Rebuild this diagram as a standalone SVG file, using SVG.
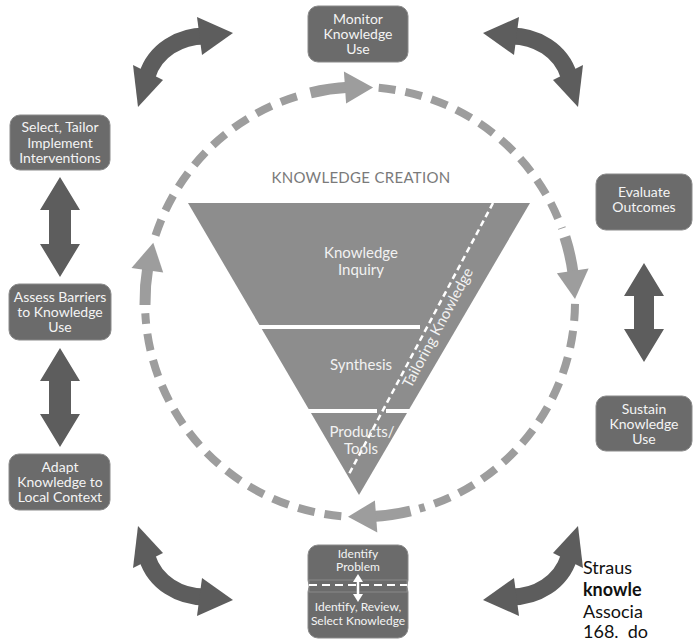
<svg xmlns="http://www.w3.org/2000/svg" xmlns:xlink="http://www.w3.org/1999/xlink" width="695" height="641" viewBox="0 0 695 641">
<style>
.node rect{fill:#6b6b6b;stroke:#8a8a8a;stroke-width:1}
.nt{font-family:Lato,'Open Sans',sans-serif;font-size:14px;fill:#f4f4f4;text-anchor:middle}
.st{font-size:12px}
.tt{font-family:Lato,'Open Sans',sans-serif;font-size:15px;fill:#f2f2f2;text-anchor:middle}
.ring{fill:none;stroke:#9d9d9d;stroke-width:8;stroke-dasharray:17 10}
.shaft{fill:none;stroke:#9d9d9d;stroke-width:11}
.head{fill:#9d9d9d}
.dark{fill:#5d5d5d}
.darkline{fill:none;stroke:#5d5d5d;stroke-width:17}
.cite{font-family:Lato,'Liberation Sans',sans-serif;font-size:18px;fill:#111}
</style>
<defs>
<g id="ca">
<path class="darkline" d="M 205,36 C 180,36 155,50 147,76"/>
<polygon class="dark" points="233,33 197,17 202,55"/>
<polygon class="dark" points="138,107 133,65 163,80"/>
</g>
</defs>
<rect width="695" height="641" fill="#fff"/>

<g id="knowledge-creation">
<text x="361" y="183" font-family="Lato,'Open Sans',sans-serif" font-size="15" fill="#7a7a7a" text-anchor="middle" letter-spacing="0.3">KNOWLEDGE CREATION</text>
<polygon points="188,203 530,203 359,495" fill="#8d8d8d"/>
<line x1="255" y1="327" x2="420" y2="327" stroke="#fff" stroke-width="4"/>
<line x1="305" y1="411" x2="377" y2="411" stroke="#fff" stroke-width="4"/>
<line x1="386" y1="411" x2="412" y2="411" stroke="#fff" stroke-width="4"/>
<line x1="493" y1="203" x2="348" y2="476" stroke="#fff" stroke-width="2.5" stroke-dasharray="6 4"/>
<text class="tt" x="361" y="258">Knowledge</text>
<text class="tt" x="361" y="275">Inquiry</text>
<text class="tt" x="361" y="370">Synthesis</text>
<text class="tt" x="362" y="437">Products/</text>
<text class="tt" x="361" y="454">Tools</text>
<text font-family="Lato,'Open Sans',sans-serif" font-size="15" fill="#f2f2f2" transform="translate(411,389) rotate(-62)">Tailoring Knowledge</text>
</g>

<g id="connectors">
<path class="ring" d="M 378.7,87.8 A 215 215 0 0 1 562.0,228.5"/>
<path class="ring" d="M 575.0,303.9 A 215 215 0 0 1 419.3,508.7"/>
<path class="ring" d="M 341.3,516.2 A 215 215 0 0 1 145.3,313.2"/>
<path class="ring" d="M 155.5,235.6 A 215 215 0 0 1 300.7,95.3"/>
<path class="shaft" d="M 310.5,92.8 A 215 215 0 0 1 348.8,87.3"/>
<path class="shaft" d="M 564.9,237.0 A 215 215 0 0 1 573.3,274.7"/>
<path class="shaft" d="M 410.5,511.0 A 215 215 0 0 1 372.4,516.6"/>
<path class="shaft" d="M 145.0,305.0 A 215 215 0 0 1 147.9,266.5"/>
<polygon class="head" points="373.1,87.4 343.9,71.6 346.1,103.5"/>
<polygon class="head" points="575,299 588.6,268.6 556.9,273.3"/>
<polygon class="head" points="348.0,516.7 377.3,532.4 374.9,500.4"/>
<polygon class="head" points="153.3,242.7 131.5,267.9 163.2,272.6"/>
<use xlink:href="#ca"/>
<use xlink:href="#ca" transform="translate(716,0) scale(-1,1)"/>
<use xlink:href="#ca" transform="translate(0,633) scale(1,-1)"/>
<use xlink:href="#ca" transform="translate(716,633) scale(-1,-1)"/>
<polygon class="dark" points="60,177 80,210 71,210 71,244 80,244 60,277 40,244 49,244 49,210 40,210"/>
<polygon class="dark" points="60,348 80,381 71,381 71,414 80,414 60,447 40,414 49,414 49,381 40,381"/>
<polygon class="dark" points="644,263 664,296 654,296 654,329 664,329 644,362 624,329 634,329 634,296 624,296"/>
</g>

<g id="monitor" class="node">
<rect x="308" y="6" width="100" height="56" rx="10"/>
<text class="nt" x="358" y="24">Monitor</text>
<text class="nt" x="358" y="39">Knowledge</text>
<text class="nt" x="358" y="54">Use</text>
</g>
<g id="select" class="node">
<rect x="10" y="115" width="100" height="55" rx="10"/>
<text class="nt" x="60" y="132">Select, Tailor</text>
<text class="nt" x="60" y="147.5">Implement</text>
<text class="nt" x="60" y="163">Interventions</text>
</g>
<g id="assess" class="node">
<rect x="9" y="284" width="102" height="56" rx="10"/>
<text class="nt" x="60" y="302">Assess Barriers</text>
<text class="nt" x="60" y="317">to Knowledge</text>
<text class="nt" x="60" y="332">Use</text>
</g>
<g id="adapt" class="node">
<rect x="9" y="454" width="101" height="56" rx="10"/>
<text class="nt" x="60" y="472">Adapt</text>
<text class="nt" x="60" y="487">Knowledge to</text>
<text class="nt" x="60" y="502">Local Context</text>
</g>
<g id="evaluate" class="node">
<rect x="596" y="174" width="96" height="56" rx="10"/>
<text class="nt" x="644" y="197">Evaluate</text>
<text class="nt" x="644" y="212">Outcomes</text>
</g>
<g id="sustain" class="node">
<rect x="596" y="396" width="96" height="55" rx="10"/>
<text class="nt" x="644" y="413.5">Sustain</text>
<text class="nt" x="644" y="428.5">Knowledge</text>
<text class="nt" x="644" y="443.5">Use</text>
</g>
<g id="identify" class="node">
<rect x="308" y="545" width="100" height="45" rx="10"/>
<rect x="308" y="582" width="100" height="56" rx="10"/>
<rect x="309" y="580" width="98" height="12" fill="#6b6b6b" stroke="none"/>
<line x1="309" y1="585" x2="407" y2="585" stroke="#fff" stroke-width="2" stroke-dasharray="8 5"/>
<line x1="358" y1="580" x2="358" y2="596" stroke="#fff" stroke-width="2.5"/>
<polygon points="358,574 363,582 353,582" fill="#fff"/>
<polygon points="358,602 363,594 353,594" fill="#fff"/>
<text class="nt st" x="358" y="558">Identify</text>
<text class="nt st" x="358" y="571">Problem</text>
<text class="nt st" x="358" y="611">Identify, Review,</text>
<text class="nt st" x="358" y="625">Select Knowledge</text>
</g>

<g id="citation">
<text class="cite" x="583" y="574">Straus</text>
<text class="cite" x="583" y="596" font-weight="bold">knowle</text>
<text class="cite" x="583" y="618">Associa</text>
<text class="cite" x="583" y="638" xml:space="preserve">168.  do</text>
</g>
</svg>
